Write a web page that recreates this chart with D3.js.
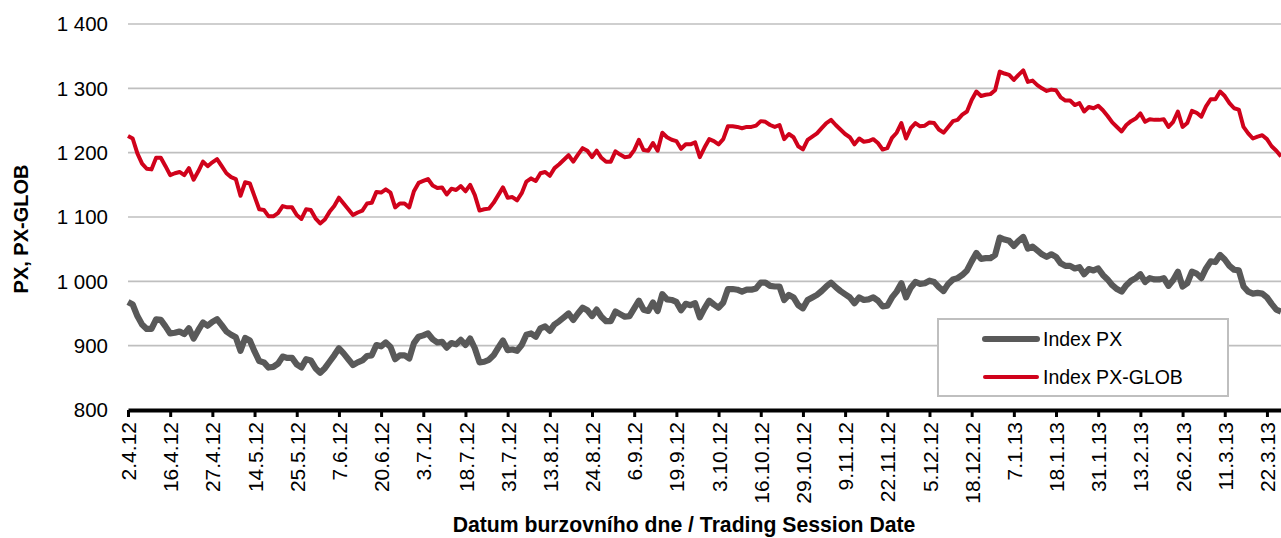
<!DOCTYPE html>
<html>
<head>
<meta charset="utf-8">
<title>PX, PX-GLOB</title>
<script src="https://d3js.org/d3.v7.min.js"></script>
<style>
  body { margin: 0; background: #fff; }
  text { font-family: "Liberation Sans", Arial, sans-serif; fill: #000; }
</style>
</head>
<body>
<div id="chart"></div>
<script>
// tick labels, one per 9 trading sessions
var tickLabels = ["2.4.12", "16.4.12", "27.4.12", "14.5.12", "25.5.12", "7.6.12", "20.6.12",
  "3.7.12", "18.7.12", "31.7.12", "13.8.12", "24.8.12", "6.9.12", "19.9.12", "3.10.12",
  "16.10.12", "29.10.12", "9.11.12", "22.11.12", "5.12.12", "18.12.12", "7.1.13", "18.1.13",
  "31.1.13", "13.2.13", "26.2.13", "11.3.13", "22.3.13"];
var tickStep = 9;

var yTicks = [800, 900, 1000, 1100, 1200, 1300, 1400];

var seriesNames = ["Index PX", "Index PX-GLOB"];

// Index PX, daily close
var px = [
  968, 964, 946, 933, 926, 926, 941, 940, 930, 919, 920, 922, 918, 927, 911, 924, 936, 931, 937, 941,
  932, 922, 917, 913, 892, 912, 908, 891, 876, 874, 866, 867, 872, 883, 881, 881, 871, 866, 879, 877,
  865, 858, 865, 875, 885, 896, 888, 879, 870, 874, 877, 884, 885, 901, 899, 905, 898, 879, 885, 885,
  880, 904, 914, 916, 919, 910, 905, 906, 897, 904, 902, 909, 901, 911, 896, 874, 875, 878, 885, 897,
  908, 893, 894, 892, 901, 917, 919, 914, 927, 930, 923, 933, 938, 944, 950, 940, 950, 959, 955, 946,
  956, 945, 938, 938, 953, 949, 945, 946, 958, 970, 956, 954, 967, 954, 980, 972, 971, 968, 955, 965,
  963, 966, 944, 958, 970, 964, 959, 967, 988, 988, 987, 984, 987, 987, 989, 998, 998, 993, 992, 992,
  971, 979, 975, 963, 958, 971, 975, 979, 985, 992, 998, 991, 985, 980, 975, 966, 975, 971, 972, 975,
  970, 961, 962, 975, 984, 997, 975, 990, 999, 996, 997, 1001, 999, 991, 985, 996, 1003, 1005, 1010, 1017,
  1031, 1044, 1035, 1036, 1036, 1041, 1068, 1065, 1063, 1055, 1063, 1069, 1051, 1054, 1048, 1042, 1038, 1042, 1038, 1028,
  1024, 1024, 1020, 1022, 1011, 1019, 1017, 1020, 1010, 1003, 994, 988, 984, 994, 1001, 1005, 1011, 999, 1005, 1003,
  1003, 1005, 993, 1002, 1015, 992, 997, 1015, 1012, 1005, 1020, 1031, 1030, 1041, 1034, 1024, 1018, 1017, 992, 984,
  981, 982, 981, 975, 965, 956, 953
];

// Index PX-GLOB, daily close
var pxGlob = [
  1226, 1222, 1199, 1183, 1175, 1174, 1192, 1192, 1179, 1165, 1168, 1170, 1165, 1176, 1158, 1171, 1186, 1179, 1185, 1190,
  1179, 1168, 1162, 1159, 1133, 1154, 1152, 1132, 1112, 1111, 1101, 1101, 1106, 1117, 1115, 1115, 1103, 1097, 1112, 1111,
  1098, 1090, 1096, 1108, 1117, 1130, 1121, 1112, 1103, 1107, 1110, 1121, 1122, 1139, 1138, 1143, 1138, 1115, 1121, 1121,
  1115, 1140, 1153, 1156, 1159, 1149, 1145, 1146, 1135, 1144, 1142, 1148, 1140, 1150, 1134, 1110, 1112, 1113, 1122, 1134,
  1146, 1130, 1131, 1126, 1137, 1155, 1160, 1156, 1168, 1170, 1164, 1176, 1182, 1189, 1196, 1186, 1197, 1207, 1203, 1193,
  1203, 1192, 1186, 1186, 1202, 1197, 1193, 1194, 1204, 1220, 1204, 1203, 1215, 1203, 1231, 1224, 1220, 1218, 1206, 1213,
  1213, 1216, 1193, 1208, 1221, 1218, 1213, 1221, 1241, 1241, 1240, 1238, 1240, 1240, 1242, 1249, 1248, 1243, 1240, 1243,
  1221, 1229, 1224, 1210, 1205, 1220, 1225, 1230, 1238, 1246, 1251, 1243, 1236, 1229, 1224, 1213, 1222, 1217, 1218, 1221,
  1215, 1205, 1207, 1223, 1231, 1246, 1222, 1238, 1246, 1241, 1242, 1247, 1246, 1236, 1231, 1240, 1249, 1251, 1259, 1264,
  1282, 1295, 1288, 1290, 1291, 1297, 1326, 1323, 1321, 1313, 1321, 1328, 1310, 1312, 1305, 1300, 1296, 1298, 1297, 1286,
  1281, 1281, 1274, 1277, 1264, 1271, 1269, 1273, 1266, 1257, 1247, 1240, 1233, 1243, 1249, 1253, 1261, 1248, 1252, 1251,
  1251, 1252, 1240, 1248, 1264, 1240, 1246, 1265, 1262, 1256, 1272, 1283, 1283, 1295, 1288, 1277, 1269, 1267, 1240, 1230,
  1222, 1225, 1227, 1221, 1210, 1203, 1194
];

var width = 1281, height = 538;
var margin = {top: 24, right: 0, bottom: 128, left: 128};

var svg = d3.select("#chart").append("svg")
    .attr("width", width)
    .attr("height", height);

var x = d3.scaleLinear()
    .domain([0, px.length - 1])
    .range([margin.left, width - margin.right]);

var y = d3.scaleLinear()
    .domain([800, 1400])
    .range([height - margin.bottom, margin.top]);

// czech number format: "1 400"
var cz = d3.formatLocale({decimal: ",", thousands: " ", grouping: [3], currency: ["", " Kč"]});
var fmt = cz.format(",");

// gridlines
svg.append("g").selectAll("line")
    .data(yTicks.slice(1))
    .enter().append("line")
    .attr("x1", margin.left)
    .attr("x2", width - margin.right)
    .attr("y1", function(d) { return y(d); })
    .attr("y2", function(d) { return y(d); })
    .attr("stroke", "#bfbfbf")
    .attr("stroke-width", 1.6);

// y labels
svg.append("g").selectAll("text")
    .data(yTicks)
    .enter().append("text")
    .attr("x", 108)
    .attr("y", function(d) { return y(d); })
    .attr("dy", "0.36em")
    .attr("text-anchor", "end")
    .style("font-size", "20.5px")
    .text(function(d) { return fmt(d); });

// lines
var line = d3.line()
    .x(function(d, i) { return x(i); })
    .y(function(d) { return y(d); });

svg.append("path")
    .datum(px)
    .attr("d", line)
    .attr("fill", "none")
    .attr("stroke", "#595959")
    .attr("stroke-width", 6.2)
    .attr("stroke-linejoin", "round");

svg.append("path")
    .datum(pxGlob)
    .attr("d", line)
    .attr("fill", "none")
    .attr("stroke", "#d0021b")
    .attr("stroke-width", 4)
    .attr("stroke-linejoin", "round");

// x axis
var xAxis = d3.axisBottom(x)
    .tickValues(d3.range(0, tickLabels.length * tickStep, tickStep))
    .tickFormat(function(d) { return tickLabels[d / tickStep]; })
    .tickSizeInner(7)
    .tickSizeOuter(0);

var gx = svg.append("g")
    .attr("transform", "translate(0," + y(800) + ")")
    .call(xAxis);

gx.select(".domain").attr("stroke", "#000").attr("stroke-width", 4);
gx.selectAll(".tick line").attr("stroke", "#000").attr("stroke-width", 3);
gx.selectAll(".tick text")
    .attr("transform", "rotate(-90)")
    .attr("x", -12)
    .attr("y", 0)
    .attr("dy", "0.36em")
    .style("text-anchor", "end")
    .style("font-size", "21px")
    .style("font-family", "'Liberation Sans', Arial, sans-serif")
    .attr("fill", "#000");

// axis titles
svg.append("text")
    .attr("x", 684)
    .attr("y", 532)
    .attr("text-anchor", "middle")
    .style("font-size", "21.2px")
    .style("font-weight", "bold")
    .text("Datum burzovního dne / Trading Session Date");

svg.append("text")
    .attr("transform", "translate(28," + 229 + ") rotate(-90)")
    .attr("text-anchor", "middle")
    .style("font-size", "20px")
    .style("font-weight", "bold")
    .text("PX, PX-GLOB");

// legend
var legend = svg.append("g");
legend.append("rect")
    .attr("x", 938).attr("y", 319)
    .attr("width", 290).attr("height", 77)
    .attr("fill", "#fff")
    .attr("stroke", "#bfbfbf")
    .attr("stroke-width", 2);

var legendColors = ["#595959", "#d0021b"];
var legendWidths = [6, 4];
seriesNames.forEach(function(name, i) {
  var ly = 339 + i * 38;
  legend.append("line")
      .attr("x1", 985).attr("x2", 1037)
      .attr("y1", ly).attr("y2", ly)
      .attr("stroke", legendColors[i])
      .attr("stroke-width", legendWidths[i])
      .attr("stroke-linecap", "round");
  legend.append("text")
      .attr("x", 1043)
      .attr("y", ly + 7)
      .style("font-size", "19.5px")
      .text(name);
});
</script>
</body>
</html>
